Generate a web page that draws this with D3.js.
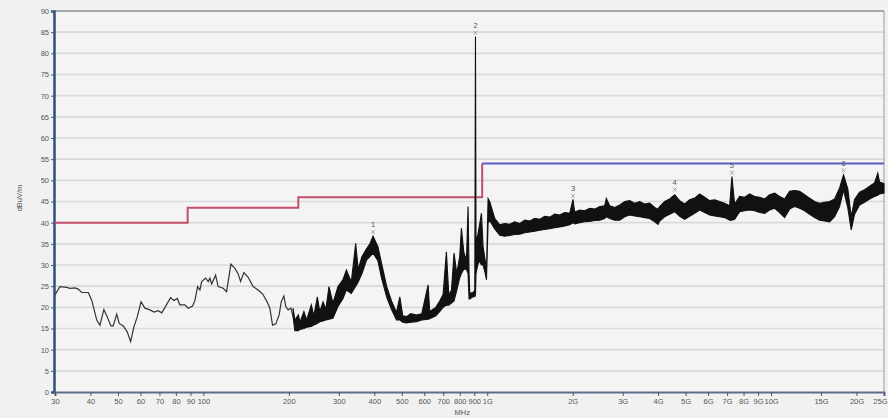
<!DOCTYPE html>
<html><head><meta charset="utf-8">
<script src="https://cdn.jsdelivr.net/npm/d3@7"></script>
<style>
html,body{margin:0;padding:0;background:#f1f1f1;}
svg{display:block;font-family:"Liberation Sans",Arial,sans-serif;}
</style></head>
<body><svg id="c" width="888" height="418"></svg>
<script>
// ---- data ----
const yTicks = [0,5,10,15,20,25,30,35,40,45,50,55,60,65,70,75,80,85,90];
const xTickValues = [30,40,50,60,70,80,90,100,200,300,400,500,600,700,800,900,1000,2000,3000,4000,5000,6000,7000,8000,9000,10000,15000,20000,25000];
const xTickLabels = ["30","40","50","60","70","80","90","100","200","300","400","500","600","700","800","900","1G","2G","3G","4G","5G","6G","7G","8G","9G","10G","15G","20G","25G"];

// thin trace (MHz, dBuV/m)
const thinFreq  = [30,31.2,33,33.9,35.3,36.2,37.3,39.3,40.4,42.1,43.2,44.6,45.8,47.2,48.1,49.5,50.5,52.2,53.9,55.4,56.9,58.5,60.3,62.2,64.8,67,69.3,71.3,73.2,76.6,78.7,80.9,82.6,86.1,88.4,91.6,93.4,95.4,97.2,98.6,101.8,104,105.4,106.9,110.4,112.7,117.4,120.7,125,129.1,132.6,135.2,138.9,143.8,149.7,155.9,161.6,167.7,171.4,175.2,180,184.9,188,192,195.2,198.9,203.3,207];
const thinLevel = [22.9,24.9,24.7,24.5,24.6,24.3,23.5,23.5,21.7,17.0,15.8,19.5,17.8,15.6,15.6,18.4,16.2,15.6,14.2,11.9,15.4,17.8,21.3,19.8,19.4,18.9,19.2,18.7,20.0,22.3,21.6,22.1,20.6,20.6,19.8,20.3,21.7,24.9,24.1,26.1,26.9,26.1,26.9,25.5,27.6,24.9,24.5,23.7,30.2,29.2,27.9,26.1,28.2,27.1,24.9,24.1,23.2,21.3,19.8,15.8,16.1,18.2,21.3,22.7,20.2,19.4,19.8,17.8];

// noisy band envelope (MHz, low, high)
const bandFreq = [207,210,216,219,226,231,240,245,252,257,264,270,277,286,298,310,319,332,344,351,362,376,386,396,412,424,442,460,479,492,504,519,538,563,588,619,627,659,680,699,718,732,748,764,781,800,811,827,845,856,863,868,891,904,909,913,926,937,954,967,984,994,1007,
  1020,1063,1107,1152,1200,1250,1302,1356,1412,1470,1531,1594,1660,1729,1800,1875,1953,2005,2033,2117,2205,2296,2391,2490,2593,2628,2701,2812,2929,3050,3176,3308,3444,3587,3735,3890,3996,4051,4219,4393,4575,4764,4961,5167,5381,5603,5835,6077,6328,6590,6863,7147,7280,7442,7750,8071,8405,8753,9115,9492,9885,10294,10720,11163,11625,12106,12607,13129,13672,14238,14827,15441,16080,16745,17438,18003,18640,19163,19690,20505,21354,22237,23157,23775,24115,25000];
const bandLow  = [17.8,14.5,14.5,14.8,15.0,15.3,15.5,15.8,16.2,16.6,16.8,17.0,17.2,17.4,20.2,22.0,24.1,23.3,25.0,26.0,28.0,31.2,32.0,32.8,31.0,27.0,22.5,19.5,17.0,17.0,16.5,16.3,16.5,16.6,17.0,17.2,17.3,18.0,19.0,20.0,20.5,20.5,21.0,21.5,24.0,27.0,28.0,29.0,29.0,28.0,22.0,22.0,22.5,22.5,23.0,28.0,30.0,31.0,30.0,30.0,28.0,26.5,40.0,
  40.5,38.5,37.0,36.8,37.0,37.2,37.3,37.6,37.8,38.0,38.2,38.4,38.6,38.8,39.0,39.2,39.5,40.0,39.7,40.0,40.2,40.3,40.5,40.6,41.0,41.4,41.0,40.6,40.6,41.4,41.8,41.6,41.4,41.2,41.0,40.2,39.6,40.4,41.4,42.0,42.6,41.5,40.8,41.5,42.2,43.0,42.4,41.8,41.6,41.4,41.2,40.6,40.6,40.8,42.6,42.8,43.0,42.8,42.4,42.2,43.0,43.4,42.4,41.2,43.2,43.8,43.4,42.8,42.0,41.2,40.6,40.4,40.2,41.4,43.8,47.7,43.5,38.3,42.0,44.2,44.8,45.6,46.2,46.5,46.8,47.0];
const bandHigh = [19.8,17.0,18.2,16.5,19.0,17.0,20.6,18.0,22.5,19.0,21.3,19.5,24.9,21.0,24.9,26.5,28.8,26.0,35.1,29.0,32.0,33.9,35.0,36.8,34.3,30.5,25.0,21.5,18.8,22.5,18.0,17.8,18.5,18.2,18.5,25.3,19.0,20.0,21.5,23.0,33.1,23.0,24.0,32.8,28.0,32.0,38.7,33.0,31.2,43.8,28.0,23.3,23.5,24.0,84.0,36.0,37.0,39.0,42.2,34.3,31.0,28.5,45.7,
  45.0,41.0,39.5,39.8,39.6,40.2,39.8,40.6,40.4,41.0,40.8,41.5,41.3,42.0,41.8,42.4,42.2,45.5,42.5,43.0,42.8,43.4,43.2,43.8,44.0,45.7,44.0,43.6,44.2,45.0,45.2,44.6,45.0,44.4,44.6,43.6,43.2,43.8,45.0,45.6,46.6,45.2,44.4,45.4,45.8,46.8,46.0,45.2,45.4,45.0,44.6,44.0,50.9,44.4,46.2,46.0,46.8,46.2,46.0,45.6,46.6,47.0,46.2,45.6,47.4,47.6,47.4,46.6,45.8,45.0,44.6,44.8,45.0,45.6,48.2,51.3,48.0,41.4,45.5,47.2,47.8,48.6,49.4,51.7,49.6,49.2];

// limit lines
const redLimitFreq  = [30,88,216,960];
const redLimitLevel = [40,43.5,46,54];
const blueLimitFreq  = [960,25000];
const blueLimitLevel = [54,54];

// markers
const markerIds   = ["1","2","3","4","5","6"];
const markerFreq  = [396,909,2005,4575,7280,18003];
const markerLevel = [37,84,45.5,47,51,51.5];

// ---- drawing ----
const svg = d3.select("#c");
const L=55, R=884, T=11, B=392;
const x = d3.scaleLog().domain([30,25000]).range([L,R]);
const y = d3.scaleLinear().domain([0,90]).range([B,T]);

svg.append("rect").attr("x",0).attr("y",0).attr("width",888).attr("height",418).attr("fill","#f1f1f1");
svg.append("rect").attr("x",L).attr("y",T).attr("width",R-L).attr("height",B-T).attr("fill","#f4f4f4");

// horizontal grid
svg.append("g").selectAll("line").data(yTicks.filter(d=>d>0 && d<90)).join("line")
  .attr("x1",L).attr("x2",R).attr("y1",d=>y(d)).attr("y2",d=>y(d))
  .attr("stroke","#d9d9d9").attr("stroke-width",1.6);

// frame
svg.append("line").attr("x1",L).attr("x2",R).attr("y1",T).attr("y2",T).attr("stroke","#8a8f96").attr("stroke-width",1.5);
svg.append("line").attr("x1",R).attr("x2",R).attr("y1",T).attr("y2",B).attr("stroke","#9a9a9a").attr("stroke-width",1);

// y axis
const yAxis = d3.axisLeft(y).tickValues(yTicks).tickSize(3).tickPadding(2);
const gy = svg.append("g").attr("transform",`translate(${L-1},0)`).call(yAxis);
gy.select(".domain").attr("stroke","#2f4f7f").attr("stroke-width",2.5);
gy.selectAll(".tick line").attr("stroke","#555");
gy.selectAll("text").attr("font-size",7.5).attr("fill","#555");

// x axis
const xAxis = d3.axisBottom(x).tickValues(xTickValues).tickFormat((d,i)=>xTickLabels[i]).tickSize(4).tickPadding(3);
const gx = svg.append("g").attr("transform",`translate(0,${B})`).call(xAxis);
gx.select(".domain").attr("stroke","#5a6f8c").attr("stroke-width",2);
gx.selectAll(".tick line").attr("stroke","#555");
gx.selectAll("text").attr("font-size",7.5).attr("fill","#555");
gx.selectAll(".tick").filter(d=>d===25000).select("text").attr("text-anchor","end").attr("dx",3);

svg.append("text").attr("x",x(900)-12).attr("y",415).attr("text-anchor","middle")
  .attr("font-size",7.5).attr("fill","#555").text("MHz");
svg.append("text").attr("transform","translate(22,198) rotate(-90)").attr("text-anchor","middle")
  .attr("font-size",7.5).attr("fill","#555").text("dBuV/m");

// limit lines
const stepLine = d3.line().curve(d3.curveStepAfter).x(d=>x(d[0])).y(d=>y(d[1]));
svg.append("path").attr("d",stepLine(d3.zip(redLimitFreq,redLimitLevel)))
  .attr("fill","none").attr("stroke","#c0506a").attr("stroke-width",2);
svg.append("path").attr("d",stepLine(d3.zip(blueLimitFreq,blueLimitLevel)))
  .attr("fill","none").attr("stroke","#5b5bc6").attr("stroke-width",2);

// thin trace
svg.append("path").attr("d",d3.line().x(d=>x(d[0])).y(d=>y(d[1]))(d3.zip(thinFreq,thinLevel)))
  .attr("fill","none").attr("stroke","#333").attr("stroke-width",1.2);

// noisy band
const bandData = d3.zip(bandFreq,bandLow,bandHigh);
svg.append("path").attr("d",d3.area().x(d=>x(d[0])).y0(d=>y(d[1])).y1(d=>y(d[2]))(bandData))
  .attr("fill","#111").attr("stroke","#111").attr("stroke-width",1.1).attr("stroke-linejoin","miter");

// markers
const mk = svg.append("g");
markerIds.forEach((id,i)=>{
  const mx = x(markerFreq[i]), my = y(markerLevel[i]);
  mk.append("path").attr("d",`M${mx-1.8},${my-5.5}L${mx+1.8},${my-1.5}M${mx+1.8},${my-5.5}L${mx-1.8},${my-1.5}`)
    .attr("stroke","#999").attr("stroke-width",0.9);
  mk.append("text").attr("x",mx).attr("y",my-8).attr("text-anchor","middle")
    .attr("font-size",7.5).attr("fill","#555").text(id);
});
</script></body></html>
